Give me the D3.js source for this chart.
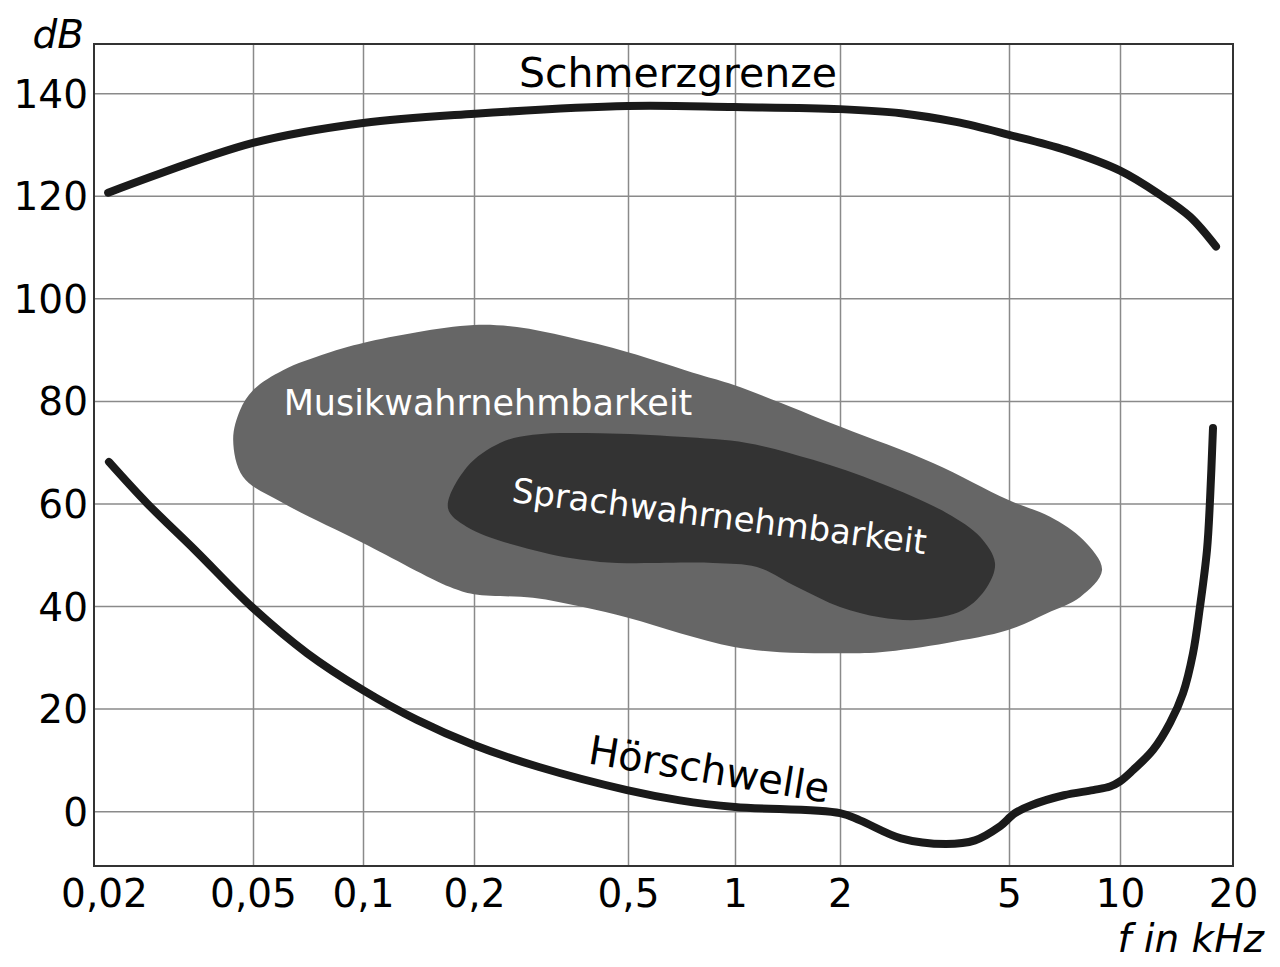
<!DOCTYPE html>
<html>
<head>
<meta charset="utf-8">
<script src="https://cdn.jsdelivr.net/npm/d3@7"></script>
<style>
  body { margin: 0; background: white; }
  text { font-family: "DejaVu Sans", sans-serif; }
</style>
</head>
<body>
<svg id="chart"></svg>
<script>
// Tick values and labels
var xTicks = [0.02, 0.05, 0.1, 0.2, 0.5, 1, 2, 5, 10, 20]
var xTickLabels = ["0,02", "0,05", "0,1", "0,2", "0,5", "1", "2", "5", "10", "20"]
var yTicks = [0, 20, 40, 60, 80, 100, 120, 140]

// Schmerzgrenze (frequency kHz, dB)
var painFreq = [0.0217, 0.05, 0.1, 0.2012, 0.5, 0.9935, 2, 2.784, 3.751, 5, 7.14, 10, 12.78, 15.37, 18.02]
var painDb   = [120.6, 130.3, 134.2, 136.0, 137.5, 137.3, 136.9, 136.1, 134.4, 131.9, 128.9, 124.9, 120.2, 115.9, 110.1]

// Hörschwelle
var hearFreq = [0.0218, 0.0271, 0.0358, 0.0497, 0.0703, 0.1, 0.1401, 0.2, 0.2944, 0.4971, 0.7003, 1, 2, 2.23, 2.784, 3.552,
                4.158, 4.736, 5.19, 5.77, 7.05, 8.45, 9.40, 10.0, 10.83, 12.24, 13.59, 14.72, 15.65, 16.33, 17.05, 17.37, 17.69]
var hearDb   = [68.1, 60.1, 50.9, 39.8, 30.8, 23.6, 17.8, 12.9, 8.6, 4.1, 2.1, 0.8, -0.4, -1.8, -5.3, -6.4,
                -5.7, -3.1, -0.4, 1.2, 3.1, 4.1, 4.8, 5.8, 8.0, 11.9, 17.2, 23.0, 30.8, 39.8, 50.9, 60.7, 74.7]

// Musikwahrnehmbarkeit outline
var musicFreq = [0.0446, 0.0464, 0.05, 0.0604, 0.0797, 0.1, 0.1401, 0.2, 0.2582, 0.3478, 0.5, 0.797, 0.9935, 2, 3.311, 4.974, 6.46, 7.94, 8.94,
                 7.79, 6.34, 4.974, 3.572, 2.484, 2, 1.346, 0.9935, 0.7003, 0.5, 0.3825, 0.284, 0.2, 0.1722, 0.1, 0.0604, 0.0472]
var musicDb   = [72.4, 78.2, 82.1, 86.0, 89.3, 91.3, 93.4, 94.8, 94.4, 92.5, 89.5, 85.1, 83.1, 75.0, 67.9, 60.7, 57.4, 52.9, 47.0,
                 41.7, 38.6, 35.3, 32.8, 31.0, 30.8, 31.0, 32.0, 34.7, 37.7, 39.8, 41.6, 42.3, 43.7, 52.3, 60.1, 65.2]

// Sprachwahrnehmbarkeit outline
var speechFreq = [0.170, 0.1914, 0.2334, 0.284, 0.4232, 0.7003, 1.082, 1.674, 2.484, 3.572, 4.273, 4.634,
                  4.438, 3.897, 3.086, 2.484, 2, 1.506, 1.156, 0.867, 0.4232, 0.284, 0.1914]
var speechDb   = [59.1, 67.1, 71.8, 73.4, 73.7, 73.0, 71.8, 68.5, 64.0, 58.1, 53.5, 48.4,
                  43.7, 39.2, 37.3, 37.8, 39.8, 43.7, 47.6, 48.4, 48.6, 50.9, 55.4]

var dimensions = {
    width: 1280,
    height: 967,
    margin: { top: 44, bottom: 101, left: 94, right: 47 }
}
var plotW = dimensions.width - dimensions.margin.left - dimensions.margin.right
var plotH = dimensions.height - dimensions.margin.top - dimensions.margin.bottom

var svg = d3.select("#chart")
    .attr("width", dimensions.width)
    .attr("height", dimensions.height)

// The frequency grid of the original is drawn by hand, so the log scale is piecewise
var xScale = d3.scaleLog()
    .domain(xTicks)
    .range([94, 253, 363, 474, 628, 735, 840, 1009, 1120, 1233])

var yScale = d3.scaleLinear()
    .domain([-10.7, 149.6])
    .range([dimensions.margin.top + plotH, dimensions.margin.top])

var zip = (xs, ys) => xs.map((v, i) => [v, ys[i]])

// Grid lines
svg.append("g")
    .attr("transform", `translate(0,${dimensions.margin.top + plotH})`)
    .call(d3.axisBottom(xScale).tickValues(xTicks.slice(1, -1)).tickSize(-plotH).tickFormat(""))
    .call(g => g.select(".domain").remove())
    .selectAll("line")
        .attr("stroke", "#8a8a8a")
        .attr("stroke-width", 1.5)

svg.append("g")
    .attr("transform", `translate(${dimensions.margin.left},0)`)
    .call(d3.axisLeft(yScale).tickValues(yTicks).tickSize(-plotW).tickFormat(""))
    .call(g => g.select(".domain").remove())
    .selectAll("line")
        .attr("stroke", "#8a8a8a")
        .attr("stroke-width", 1.5)

// Regions
var area = d3.line()
    .x(d => xScale(d[0]))
    .y(d => yScale(d[1]))
    .curve(d3.curveCatmullRomClosed.alpha(0.5))

svg.append("path")
    .attr("d", area(zip(musicFreq, musicDb)))
    .attr("fill", "#666666")

svg.append("path")
    .attr("d", area(zip(speechFreq, speechDb)))
    .attr("fill", "#333333")

// Curves
var line = d3.line()
    .x(d => xScale(d[0]))
    .y(d => yScale(d[1]))
    .curve(d3.curveCatmullRom.alpha(0.5))

;[zip(painFreq, painDb), zip(hearFreq, hearDb)].forEach(pts => {
    svg.append("path")
        .attr("d", line(pts))
        .attr("fill", "none")
        .attr("stroke", "#1a1a1a")
        .attr("stroke-width", 8)
        .attr("stroke-linecap", "round")
        .attr("stroke-linejoin", "round")
})

// Frame
svg.append("rect")
    .attr("x", dimensions.margin.left)
    .attr("y", dimensions.margin.top)
    .attr("width", plotW)
    .attr("height", plotH)
    .attr("fill", "none")
    .attr("stroke", "#333")
    .attr("stroke-width", 2)

// Axis labels
var xAxis = svg.append("g")
    .attr("transform", `translate(0,${dimensions.margin.top + plotH})`)
    .call(d3.axisBottom(xScale).tickValues(xTicks).tickSize(0).tickPadding(13)
        .tickFormat((d, i) => xTickLabels[i]))
xAxis.select(".domain").remove()
xAxis.selectAll("text")
    .attr("dx", (d, i) => i == 0 ? 10 : 0)
    .style("font-size", "39px")
    .style("fill", "black")

var yAxis = svg.append("g")
    .attr("transform", `translate(${dimensions.margin.left},0)`)
    .call(d3.axisLeft(yScale).tickValues(yTicks).tickSize(0).tickPadding(6))
yAxis.select(".domain").remove()
yAxis.selectAll("text")
    .attr("dy", "0.36em")
    .style("font-size", "39px")
    .style("fill", "black")

svg.append("text")
    .attr("x", 84)
    .attr("y", 48)
    .attr("text-anchor", "end")
    .style("font-size", "39px")
    .style("font-style", "italic")
    .text("dB")

svg.append("text")
    .attr("x", 1264)
    .attr("y", 952)
    .attr("text-anchor", "end")
    .style("font-size", "39px")
    .style("font-style", "italic")
    .text("f in kHz")

// Curve and region names
svg.append("text")
    .attr("x", 678)
    .attr("y", 87)
    .attr("text-anchor", "middle")
    .style("font-size", "41px")
    .text("Schmerzgrenze")

svg.append("text")
    .attr("transform", "translate(707,783) rotate(9.3)")
    .attr("text-anchor", "middle")
    .style("font-size", "40px")
    .text("Hörschwelle")

svg.append("text")
    .attr("x", 488)
    .attr("y", 415)
    .attr("text-anchor", "middle")
    .style("font-size", "35px")
    .style("fill", "white")
    .text("Musikwahrnehmbarkeit")

svg.append("text")
    .attr("transform", "translate(718,528) rotate(7.2)")
    .attr("text-anchor", "middle")
    .style("font-size", "34px")
    .style("fill", "white")
    .text("Sprachwahrnehmbarkeit")
</script>
</body>
</html>
